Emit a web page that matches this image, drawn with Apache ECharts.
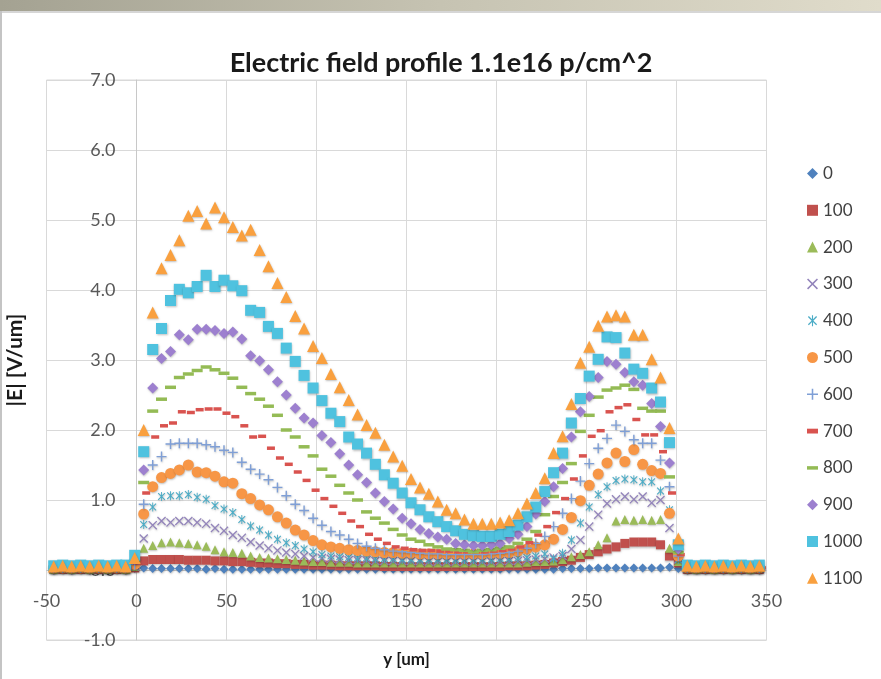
<!DOCTYPE html>
<html><head><meta charset="utf-8">
<script src="https://cdn.jsdelivr.net/npm/echarts@6/dist/echarts.min.js"></script>
<style>html,body{margin:0;padding:0;background:#fff}#c{width:881px;height:679px}</style>
</head><body><div id="c"></div>
<script>
// x positions (um)
const xValues = [-46,-41,-36,-31,-26,-21,-16,-11,-6,-1,
  4,9,13.9,18.9,23.8,28.8,33.7,38.7,43.6,48.6,
  53.5,58.5,63.4,68.4,73.3,78.3,83.2,88.2,93.1,98.1,
  103,108,112.9,117.9,122.8,127.8,132.7,137.7,142.6,147.6,
  152.5,157.5,162.4,167.4,172.3,177.3,182.2,187.2,192.1,197.1,
  202,207,211.9,216.9,221.8,226.8,231.7,236.7,241.6,246.6,
  251.5,256.5,261.4,266.4,271.3,276.3,281.2,286.2,291.1,296.1,
  301,306,311,316,321,326,331,336,341,346];

const seriesNames = ['0','100','200','300','400','500','600','700','800','900','1000','1100'];

const e0 = [0,0.01,0,0.01,0,0.01,0,0.01,0,0.02,
  0.03,0.02,0.02,0.02,0.02,0.02,0.02,0.01,0.02,0.01,
  0.01,0.01,0.01,0.01,0.01,0.01,0.01,0.01,0.01,0.01,
  0.01,0.01,0.01,0.01,0.01,0.01,0.01,0.01,0.01,0.01,
  0.01,0.01,0.01,0.01,0.01,0.01,0.01,0.01,0.01,0.01,
  0.01,0.01,0.01,0.01,0.01,0.01,0.01,0.02,0.02,0.02,
  0.02,0.03,0.03,0.03,0.03,0.03,0.03,0.03,0.03,0.04,
  0.02,0,0.01,0,0.01,0,0.01,0,0.01,0];
const e100 = [0.01,0.01,0.01,0.01,0.01,0.01,0.01,0.01,0.01,0.03,
  0.13,0.15,0.15,0.15,0.15,0.14,0.14,0.14,0.13,0.13,
  0.12,0.12,0.11,0.1,0.1,0.09,0.09,0.08,0.08,0.07,
  0.07,0.07,0.06,0.06,0.06,0.06,0.06,0.05,0.05,0.05,
  0.05,0.05,0.05,0.05,0.05,0.05,0.05,0.05,0.05,0.05,
  0.05,0.06,0.06,0.06,0.07,0.08,0.1,0.12,0.14,0.18,
  0.22,0.26,0.3,0.33,0.38,0.4,0.4,0.4,0.36,0.2,
  0.1,0.01,0.01,0.01,0.01,0.01,0.01,0.01,0.01,0.01];
const e200 = [0.01,0.02,0.01,0.02,0.01,0.02,0.01,0.02,0.01,0.05,
  0.31,0.35,0.39,0.4,0.39,0.38,0.36,0.34,0.29,0.26,
  0.25,0.24,0.2,0.18,0.17,0.16,0.15,0.14,0.13,0.12,
  0.12,0.11,0.11,0.11,0.1,0.1,0.1,0.1,0.1,0.1,
  0.1,0.1,0.1,0.1,0.1,0.1,0.1,0.1,0.1,0.1,
  0.1,0.1,0.1,0.11,0.12,0.12,0.13,0.15,0.19,0.22,
  0.26,0.36,0.46,0.7,0.72,0.71,0.72,0.71,0.72,0.31,
  0.12,0.02,0.01,0.02,0.01,0.02,0.01,0.02,0.01,0.02];
const e300 = [0.02,0.02,0.02,0.02,0.02,0.02,0.02,0.02,0.02,0.05,
  0.45,0.64,0.7,0.68,0.7,0.7,0.68,0.66,0.6,0.56,
  0.5,0.46,0.4,0.35,0.31,0.28,0.25,0.23,0.2,0.18,
  0.17,0.16,0.15,0.14,0.14,0.14,0.13,0.13,0.13,0.13,
  0.13,0.13,0.12,0.12,0.12,0.12,0.12,0.12,0.12,0.12,
  0.13,0.13,0.13,0.14,0.15,0.16,0.18,0.2,0.3,0.43,
  0.62,0.79,0.95,1.01,1.05,1.01,1.05,0.96,1.0,0.6,
  0.15,0.02,0.02,0.02,0.02,0.02,0.02,0.02,0.02,0.02];
const e400 = [0.02,0.03,0.02,0.03,0.02,0.03,0.02,0.03,0.02,0.06,
  0.65,0.9,1.05,1.06,1.06,1.08,1.04,1.01,0.92,0.87,
  0.82,0.72,0.63,0.57,0.5,0.44,0.39,0.35,0.3,0.26,
  0.22,0.2,0.19,0.18,0.17,0.17,0.16,0.16,0.16,0.15,
  0.15,0.15,0.15,0.15,0.15,0.15,0.15,0.15,0.15,0.15,
  0.16,0.16,0.17,0.18,0.2,0.23,0.16,0.24,0.43,0.67,
  0.9,1.08,1.19,1.28,1.3,1.29,1.26,1.26,1.13,0.86,
  0.15,0.03,0.02,0.03,0.02,0.03,0.02,0.03,0.02,0.03];
const e500 = [0.03,0.03,0.03,0.03,0.03,0.03,0.03,0.03,0.03,0.08,
  0.8,1.19,1.32,1.38,1.43,1.5,1.4,1.39,1.34,1.26,
  1.24,1.09,1.02,0.93,0.86,0.76,0.67,0.57,0.5,0.42,
  0.36,0.33,0.31,0.29,0.28,0.27,0.26,0.25,0.25,0.24,
  0.24,0.23,0.23,0.23,0.23,0.23,0.23,0.23,0.23,0.24,
  0.24,0.25,0.27,0.3,0.33,0.36,0.44,0.58,0.75,0.99,
  1.21,1.37,1.53,1.67,1.55,1.72,1.51,1.42,1.38,0.81,
  0.2,0.03,0.03,0.03,0.03,0.03,0.03,0.03,0.03,0.03];
const e600 = [0.03,0.03,0.03,0.03,0.03,0.03,0.03,0.03,0.03,0.08,
  0.94,1.5,1.62,1.8,1.81,1.81,1.81,1.79,1.76,1.71,
  1.68,1.54,1.44,1.37,1.29,1.18,1.06,0.94,0.85,0.74,
  0.64,0.55,0.5,0.44,0.38,0.34,0.31,0.29,0.27,0.26,
  0.25,0.24,0.23,0.23,0.22,0.22,0.22,0.22,0.22,0.23,
  0.24,0.25,0.27,0.31,0.38,0.48,0.62,0.81,1.02,1.27,
  1.52,1.74,1.88,2.07,1.98,1.86,1.81,1.81,1.57,1.19,
  0.2,0.03,0.03,0.03,0.03,0.03,0.03,0.03,0.03,0.03];
const e700 = [0.03,0.03,0.03,0.03,0.03,0.03,0.03,0.03,0.03,0.1,
  1.1,1.9,2.06,2.1,2.26,2.25,2.29,2.3,2.3,2.24,
  2.19,2.06,1.9,1.91,1.74,1.6,1.51,1.4,1.28,1.14,
  1.02,0.91,0.81,0.7,0.62,0.51,0.44,0.38,0.33,0.31,
  0.29,0.28,0.28,0.27,0.27,0.26,0.26,0.26,0.26,0.27,
  0.28,0.3,0.33,0.39,0.5,0.62,0.82,1.02,1.3,1.63,
  1.91,1.99,2.26,2.32,2.36,2.15,1.93,1.93,1.69,1.1,
  0.22,0.03,0.03,0.03,0.03,0.03,0.03,0.03,0.03,0.03];
const e800 = [0.04,0.04,0.04,0.04,0.04,0.04,0.04,0.04,0.04,0.12,
  1.25,2.27,2.44,2.61,2.75,2.8,2.85,2.9,2.86,2.81,
  2.74,2.61,2.52,2.44,2.34,2.21,2.0,1.9,1.76,1.63,
  1.44,1.34,1.21,1.1,1.0,0.83,0.74,0.67,0.58,0.5,
  0.44,0.41,0.36,0.33,0.3,0.29,0.28,0.26,0.28,0.29,
  0.31,0.33,0.38,0.44,0.55,0.79,1.05,1.25,1.52,1.98,
  2.21,2.47,2.57,2.6,2.64,2.58,2.31,2.27,2.27,1.33,
  0.25,0.04,0.04,0.04,0.04,0.04,0.04,0.04,0.04,0.04];
const e900 = [0.04,0.05,0.04,0.05,0.04,0.05,0.04,0.05,0.04,0.15,
  1.43,2.6,3.02,3.12,3.36,3.29,3.44,3.44,3.42,3.38,
  3.4,3.3,3.06,2.99,2.86,2.69,2.5,2.31,2.17,2.1,
  1.92,1.82,1.66,1.5,1.36,1.25,1.1,0.98,0.87,0.74,
  0.66,0.58,0.52,0.47,0.44,0.38,0.36,0.35,0.35,0.36,
  0.38,0.45,0.51,0.62,0.8,0.98,1.19,1.45,1.9,2.26,
  2.48,2.75,2.98,2.94,2.82,2.69,2.64,2.38,2.05,1.53,
  0.3,0.05,0.04,0.05,0.04,0.05,0.04,0.05,0.04,0.05];
const e1000 = [0.06,0.07,0.06,0.07,0.06,0.07,0.06,0.07,0.07,0.21,
  1.69,3.15,3.45,3.85,4.01,3.96,4.05,4.21,4.05,4.14,
  4.06,3.99,3.71,3.68,3.48,3.38,3.17,2.98,2.78,2.6,
  2.42,2.24,2.12,1.9,1.8,1.67,1.51,1.36,1.24,1.1,
  0.96,0.86,0.76,0.69,0.62,0.56,0.51,0.49,0.48,0.48,
  0.51,0.55,0.64,0.76,0.9,1.12,1.39,1.67,2.1,2.45,
  2.77,3.01,3.33,3.32,3.1,2.87,2.81,2.6,2.4,1.82,
  0.36,0.07,0.06,0.07,0.06,0.07,0.06,0.07,0.06,0.07];
const e1100 = [0.05,0.06,0.05,0.06,0.05,0.06,0.05,0.06,0.05,0.17,
  2.0,3.68,4.31,4.5,4.71,5.06,5.13,4.95,5.18,5.04,
  4.9,4.78,4.86,4.57,4.34,4.1,3.9,3.63,3.45,3.2,
  3.03,2.8,2.61,2.43,2.22,2.07,1.96,1.79,1.62,1.49,
  1.3,1.18,1.09,0.98,0.86,0.81,0.72,0.66,0.66,0.66,
  0.68,0.71,0.81,0.95,1.1,1.31,1.67,1.91,2.37,2.96,
  3.19,3.49,3.62,3.64,3.62,3.36,3.36,3.01,2.75,2.03,
  0.45,0.06,0.05,0.06,0.05,0.06,0.05,0.06,0.05,0.06];

const values = [e0,e100,e200,e300,e400,e500,e600,e700,e800,e900,e1000,e1100];

const SYM_X = 'path://M0,1L1,0L5,4L9,0L10,1L6,5L10,9L9,10L5,6L1,10L0,9L4,5Z';
const SYM_AST = 'path://M0,1L1,0L5,4L9,0L10,1L6,5L10,9L9,10L5,6L1,10L0,9L4,5Z M4.4,-1H5.6V11H4.4Z';
const SYM_PLUS = 'path://M4.3,0H5.7V4.3H10V5.7H5.7V10H4.3V5.7H0V4.3H4.3Z';
const ICON_DASH = 'path://M0,0H8V3.5H0Z';
const ICON_DASH_L = 'path://M0,0H11V3.5H0Z';

const styles = [
  {symbol:'diamond', size:9, color:'#4f81bd'},
  {symbol:'rect', size:9, color:'#c0504d'},
  {symbol:'triangle', size:9, color:'#9bbb59'},
  {symbol:SYM_X, size:9, color:'#9384bb'},
  {symbol:SYM_AST, size:9, color:'#4bacc6'},
  {symbol:'circle', size:11, color:'#f79646'},
  {symbol:SYM_PLUS, size:10, color:'#7f9fd6'},
  {symbol:'rect', size:[8,3.5], color:'#d9534f', offset:[2.5,0], noShadow:true, free:true, icon:ICON_DASH},
  {symbol:'rect', size:[11,3.5], color:'#94bb55', noShadow:true, free:true, icon:ICON_DASH_L},
  {symbol:'diamond', size:11, color:'#9d80cf'},
  {symbol:'rect', size:11, color:'#4fc2df'},
  {symbol:'triangle', size:12, color:'#f9a03f'}
];

const series = seriesNames.map((name, i) => ({
  name: name,
  type: 'scatter',
  symbol: styles[i].symbol,
  symbolSize: styles[i].size,
  symbolOffset: styles[i].offset || [0,0],
  symbolKeepAspect: !styles[i].free,
  itemStyle: styles[i].noShadow ? {color: styles[i].color, opacity: 1} : {color: styles[i].color, opacity: 1,
    shadowBlur: 2, shadowColor: 'rgba(0,0,0,0.25)', shadowOffsetX: 0.5, shadowOffsetY: 1},
  emphasis: {disabled: true},
  data: xValues.map((x, j) => [x, values[i][j]])
}));

const legendData = seriesNames.map((name, i) => styles[i].icon ? {name: name, icon: styles[i].icon} : {name: name});

const chart = echarts.init(document.getElementById('c'), null, {renderer: 'canvas'});
const FONT = 'Lato, "Open Sans", sans-serif';
chart.setOption({
  backgroundColor: '#ffffff',
  animation: false,
  textStyle: {fontFamily: FONT},
  graphic: [
    {type: 'rect', shape: {x: 0, y: 0, width: 881, height: 11}, silent: true,
      style: {fill: new echarts.graphic.LinearGradient(0, 0, 1, 0, [
        {offset: 0, color: '#a4a292'}, {offset: 0.5, color: '#c6c3b2'}, {offset: 1, color: '#e0dccb'}])}},
    {type: 'rect', shape: {x: 0, y: 11, width: 881, height: 2}, silent: true, style: {fill: '#d6d6d6'}},
    {type: 'rect', shape: {x: 0, y: 11, width: 2, height: 668}, silent: true, style: {fill: '#c4c4c4'}}
  ],
  title: {
    text: 'Electric field profile 1.1e16 p/cm^2',
    left: 436, top: 45, textAlign: 'center',
    textStyle: {fontFamily: FONT, fontSize: 27, fontWeight: 'bold', color: '#1a1a1a'}
  },
  legend: {
    orient: 'vertical', left: 802, top: 160,
    itemWidth: 11, itemHeight: 11, itemGap: 19.8, symbolKeepAspect: true,
    textStyle: {fontFamily: FONT, fontSize: 17, color: '#404040', lineHeight: 15},
    data: legendData
  },
  grid: {left: 46.5, right: 114.5, top: 80, bottom: 39, show: true, borderColor: '#d9d9d9', borderWidth: 1,
    outerBoundsMode: 'none', containLabel: false},
  xAxis: {
    type: 'value', min: -50, max: 350, interval: 50, offset: -70,
    name: 'y [um]', nameLocation: 'middle', nameGap: 81,
    nameTextStyle: {fontFamily: FONT, fontSize: 17, fontWeight: 'bold', color: '#1a1a1a'},
    axisLine: {show: true, onZero: false, lineStyle: {color: '#c8c8c8'}},
    axisTick: {show: false},
    axisLabel: {margin: 22, fontSize: 18, color: '#595959', fontFamily: FONT},
    splitLine: {show: true, lineStyle: {color: '#d9d9d9'}}
  },
  yAxis: {
    type: 'value', min: -1, max: 7, interval: 1, offset: -90,
    name: '|E| [V/um]', nameLocation: 'middle', nameGap: 111,
    nameTextStyle: {fontFamily: FONT, fontSize: 21, fontWeight: 'bold', color: '#1a1a1a'},
    axisLine: {show: true, onZero: false, lineStyle: {color: '#c8c8c8'}},
    axisTick: {show: false},
    axisLabel: {margin: 21, fontSize: 18, color: '#595959', fontFamily: FONT,
      formatter: v => v.toFixed(1)},
    splitLine: {show: true, lineStyle: {color: '#d9d9d9'}}
  },
  series: series
});
</script>
</body></html>
